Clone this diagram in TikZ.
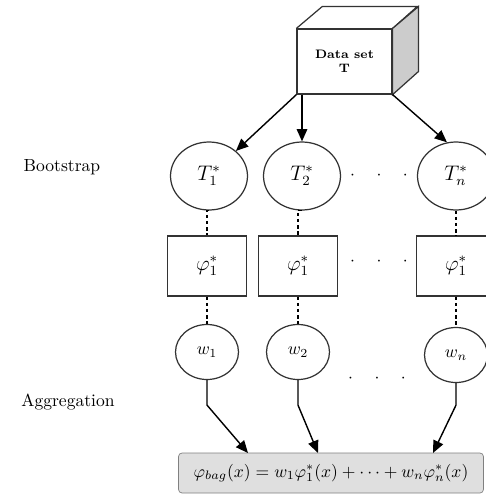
\documentclass[tikz,border=0pt]{standalone}
\usepackage{amsmath}
\usepackage{tikz}
\usetikzlibrary{shapes.geometric,arrows.meta,calc}

\begin{document}
\begin{tikzpicture}[x=0.02cm,y=-0.02cm,
    sample/.style={draw=black!80,ellipse,line width=0.7pt,minimum width=1.54cm,minimum height=1.36cm,inner sep=0pt,font=\large},
    learner/.style={draw=black!80,line width=0.7pt,minimum width=1.58cm,minimum height=1.2cm,inner sep=0pt,font=\large},
    weight/.style={draw=black!80,ellipse,line width=0.7pt,minimum width=1.26cm,minimum height=1.1cm,inner sep=0pt},
    link/.style={line width=0.7pt,dash pattern=on 2pt off 1.5pt},
    arr/.style={line width=0.8pt,-{Triangle[length=7pt,width=6pt]}}]
    \useasboundingbox (0,0) rectangle (485,501);

    % Data set cube
    \node[draw=black!80,line width=0.7pt,fill=white,minimum width=1.9cm,minimum height=1.3cm,align=center,
          font=\scriptsize\bfseries] (data) at (344.5,61.5) {Data set\\T};
    \draw[draw=black!80,line width=0.7pt] (data.north west) -- ++(26,-22) -- ++(95,0) -- (data.north east);
    \draw[draw=black!80,line width=0.7pt,fill=gray!40] (data.north east) -- ++(26,-22) -- ++(0,65) -- (data.south east) -- cycle;

    % Side labels
    \node (boot) at (62,167) {Bootstrap};
    \node (aggr) at (68,402) {Aggregation};

    % Bootstrap samples, learners and weights
    \node[sample] (t1) at (209,176) {$T_1^*$};
    \node[sample] (t2) at (302,176) {$T_2^*$};
    \node[sample] (tn) at (456,176) {$T_n^*$};

    \node[learner] (p1) at (207,266) {$\varphi_1^*$};
    \node[learner] (p2) at (298,266) {$\varphi_1^*$};
    \node[learner] (pn) at (456,266) {$\varphi_1^*$};

    \node[weight] (w1) at (207,352) {$w_1$};
    \node[weight] (w2) at (298,352) {$w_2$};
    \node[weight] (wn) at (456,355) {$w_n$};

    % Dots
    \node (d1) at (379,176) {$\cdot\hspace{10pt}\cdot\hspace{10pt}\cdot$};
    \node (d2) at (379,262) {$\cdot\hspace{10pt}\cdot\hspace{10pt}\cdot$};
    \node (d3) at (377,379) {$\cdot\hspace{10pt}\cdot\hspace{10pt}\cdot$};

    % Aggregated predictor
    \node[draw=gray,fill=gray!25,rounded corners=2pt,minimum width=6.1cm,minimum height=0.8cm] (bag) at (331,473)
          {$\varphi_{bag}(x) = w_1\varphi_1^*(x) + \cdots + w_n\varphi_n^*(x)$};

    % Arrows from data set
    \draw[arr] (data.south west) -- (t1);
    \draw[arr] (t2.north |- data.south) -- (t2.north);
    \draw[arr] (data.south east) -- (tn.105);

    % Dashed links
    \foreach \i in {1,2,n} {
        \draw[link] (t\i.south) -- (p\i.north |- t\i.south) -- (p\i.north);
        \draw[link] (p\i.south) -- (w\i.north);
    }

    % Arrows into aggregation
    \coordinate (a1) at (248,453);
    \coordinate (a2) at (318,453);
    \coordinate (an) at (433,453);
    \draw[arr] (w1.south) -- ++(0,25) -- (a1);
    \draw[arr] (w2.south) -- ++(0,25) -- (a2);
    \draw[arr] (wn.south) -- ++(0,22) -- (an);

\end{tikzpicture}
\end{document}
